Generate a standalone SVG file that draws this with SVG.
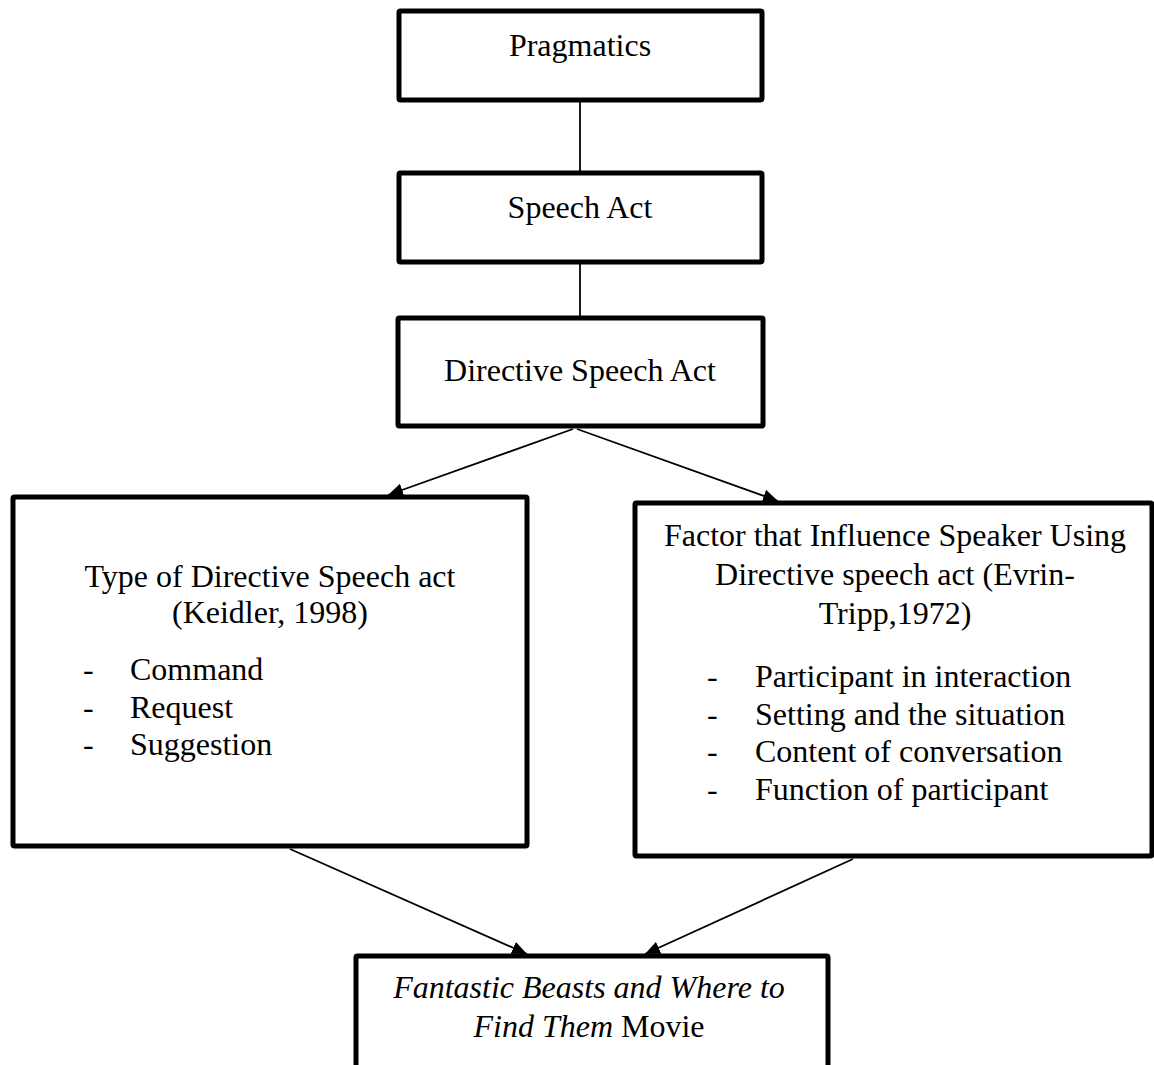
<svg xmlns="http://www.w3.org/2000/svg" width="1154" height="1065" viewBox="0 0 1154 1065">
<style>
.box{fill:#fff;stroke:#000;stroke-width:5;stroke-linejoin:round}
.t{font-family:"Liberation Serif","Times New Roman",serif;font-size:32px;fill:#000}
.c{text-anchor:middle}
.conn{stroke:#000;stroke-width:1.8;fill:none}
</style>
<defs>
<marker id="arr" markerUnits="userSpaceOnUse" markerWidth="16" markerHeight="13" refX="15" refY="6.5" orient="auto">
<path d="M0,0 L15,6.5 L0,13 z" fill="#000"/>
</marker>
</defs>
<rect width="1154" height="1065" fill="#fff"/>
<g id="pragmatics">
<rect class="box" x="399" y="11" width="363" height="89" rx="1.5"/>
<text class="t c" x="580" y="56">Pragmatics</text>
</g>
<g id="speech-act">
<rect class="box" x="399" y="173" width="363" height="89" rx="1.5"/>
<text class="t c" x="580" y="218">Speech Act</text>
</g>
<g id="directive-speech-act">
<rect class="box" x="398" y="318" width="365" height="108" rx="1.5"/>
<text class="t c" x="580" y="381">Directive Speech Act</text>
</g>
<g id="type-of-directive">
<rect class="box" x="13" y="497" width="514" height="349" rx="1.5"/>
<text class="t c" x="270" y="587">Type of Directive Speech act</text>
<text class="t c" x="270" y="623">(Keidler, 1998)</text>
<text class="t" x="83" y="680">-</text><text class="t" x="130" y="680">Command</text>
<text class="t" x="83" y="718">-</text><text class="t" x="130" y="718">Request</text>
<text class="t" x="83" y="755">-</text><text class="t" x="130" y="755">Suggestion</text>
</g>
<g id="factor">
<rect class="box" x="635" y="503" width="517" height="353" rx="1.5"/>
<text class="t c" x="895" y="546">Factor that Influence Speaker Using</text>
<text class="t c" x="895" y="585">Directive speech act (Evrin-</text>
<text class="t c" x="895" y="624">Tripp,1972)</text>
<text class="t" x="707" y="687">-</text><text class="t" x="755" y="687">Participant in interaction</text>
<text class="t" x="707" y="725">-</text><text class="t" x="755" y="725">Setting and the situation</text>
<text class="t" x="707" y="762">-</text><text class="t" x="755" y="762">Content of conversation</text>
<text class="t" x="707" y="800">-</text><text class="t" x="755" y="800">Function of participant</text>
</g>
<g id="movie">
<rect class="box" x="356" y="956" width="472" height="140" rx="1.5"/>
<text class="t c" x="589" y="998" font-style="italic">Fantastic Beasts and Where to</text>
<text class="t c" x="589" y="1037"><tspan font-style="italic">Find Them</tspan> Movie</text>
</g>
<g id="connectors">
<line class="conn" x1="580" y1="102" x2="580" y2="171"/>
<line class="conn" x1="580" y1="264" x2="580" y2="316"/>
<line class="conn" x1="573" y1="429" x2="388" y2="495" marker-end="url(#arr)"/>
<line class="conn" x1="577" y1="429" x2="778" y2="501" marker-end="url(#arr)"/>
<line class="conn" x1="290" y1="849" x2="527" y2="954" marker-end="url(#arr)"/>
<line class="conn" x1="853" y1="859" x2="645" y2="954" marker-end="url(#arr)"/>
</g>
</svg>
